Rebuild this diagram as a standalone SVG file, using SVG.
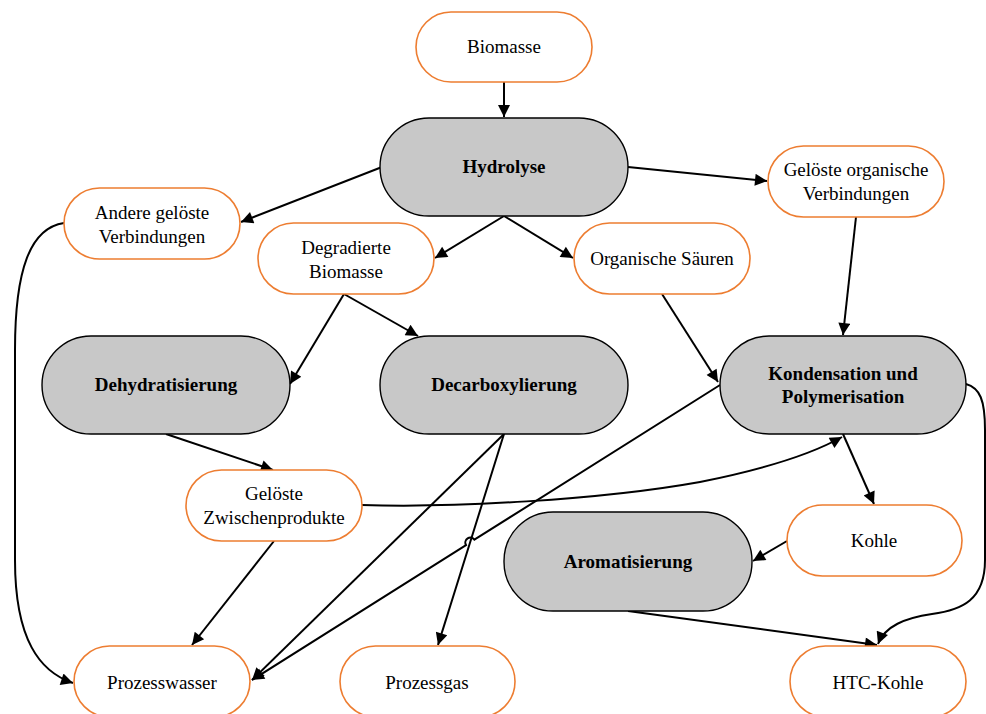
<svg xmlns="http://www.w3.org/2000/svg" width="986" height="714" viewBox="0 0 986 714">
<style>
.o{fill:#fff;stroke:#ED7D31;stroke-width:1.6}
.g{fill:#C8C8C8;stroke:#000;stroke-width:1.4}
text{font-family:"Liberation Serif","Times New Roman","DejaVu Serif",serif;font-size:19px;fill:#000;text-anchor:middle}
.b{font-weight:bold;font-size:19px}
.e{fill:none;stroke:#000;stroke-width:2;marker-end:url(#ah)}
</style>
<defs>
<marker id="ah" viewBox="0 0 10 10" refX="10" refY="5" markerWidth="15" markerHeight="12" orient="auto" markerUnits="userSpaceOnUse"><path d="M0,0 L10,5 L0,10 z" fill="#000"/></marker>
</defs>
<rect width="986" height="714" fill="#fff"/>
<g id="connectors">
<path class="e" d="M504,82 L504,117"/>
<path class="e" d="M382,167 L241,222"/>
<path class="e" d="M628,167 L767,181"/>
<path class="e" d="M504,216 L435,258"/>
<path class="e" d="M504,216 L573,258"/>
<path class="e" d="M344,294 L290,384"/>
<path class="e" d="M344,294 L418,336"/>
<path class="e" d="M662,294 L718,382"/>
<path class="e" d="M856,217 L843,335"/>
<path class="e" d="M166,434 L273,470"/>
<path class="e" d="M362,505 C450,508 600,500 700,482 C760,470 810,455 842,437"/>
<path class="e" d="M720,385 L474.4,539.7 A5,5 0 0 0 466,545.1 L252,680"/>
<path class="e" d="M504,434 L252,680"/>
<path class="e" d="M504,434 L438,645"/>
<path class="e" d="M274,541 L192,645"/>
<path class="e" d="M64,223 C30,228 15,270 15,350 L15,560 C15,640 40,672 73,683"/>
<path class="e" d="M843,434 L874,504"/>
<path class="e" d="M787,541 L753,561"/>
<path class="e" d="M628,611 L877,645"/>
<path class="e" d="M966,384 C980,388 985,400 985,430 L985,560 C985,600 962,610 932,614 C905,618 885,626 878,644"/>
</g>
<g id="biomasse"><rect class="o" x="416" y="12" width="176" height="70" rx="35"/><text x="504" y="53">Biomasse</text></g>
<g id="hydrolyse"><rect class="g" x="380" y="118" width="248" height="98" rx="49"/><text class="b" x="504" y="173">Hydrolyse</text></g>
<g id="andere"><rect class="o" x="64" y="188" width="176" height="71" rx="35.5"/><text x="152" y="219">Andere gelöste</text><text x="152" y="243">Verbindungen</text></g>
<g id="degradierte"><rect class="o" x="258" y="223" width="176" height="71" rx="35.5"/><text x="346" y="254">Degradierte</text><text x="346" y="278">Biomasse</text></g>
<g id="saeuren"><rect class="o" x="574" y="223" width="176" height="71" rx="35.5"/><text x="662" y="265">Organische Säuren</text></g>
<g id="geloeste_org"><rect class="o" x="768" y="146" width="176" height="71" rx="35.5"/><text x="856" y="176">Gelöste organische</text><text x="856" y="200">Verbindungen</text></g>
<g id="dehydratisierung"><rect class="g" x="42" y="336" width="248" height="98" rx="49"/><text class="b" x="166" y="391">Dehydratisierung</text></g>
<g id="decarboxylierung"><rect class="g" x="380" y="336" width="248" height="98" rx="49"/><text class="b" x="504" y="391">Decarboxylierung</text></g>
<g id="kondensation"><rect class="g" x="720" y="336" width="246" height="98" rx="49"/><text class="b" x="843" y="380">Kondensation und</text><text class="b" x="843" y="403">Polymerisation</text></g>
<g id="zwischen"><rect class="o" x="186" y="470" width="176" height="71" rx="35.5"/><text x="274" y="500">Gelöste</text><text x="274" y="524">Zwischenprodukte</text></g>
<g id="kohle"><rect class="o" x="787" y="505" width="175" height="71" rx="35.5"/><text x="874" y="547">Kohle</text></g>
<g id="aromatisierung"><rect class="g" x="504" y="512" width="248" height="99" rx="49"/><text class="b" x="628" y="568">Aromatisierung</text></g>
<g id="prozesswasser"><rect class="o" x="74" y="646" width="176" height="71" rx="35.5"/><text x="162" y="689">Prozesswasser</text></g>
<g id="prozessgas"><rect class="o" x="340" y="646" width="175" height="71" rx="35.5"/><text x="427" y="689">Prozessgas</text></g>
<g id="htc"><rect class="o" x="790" y="646" width="176" height="71" rx="35.5"/><text x="878" y="689">HTC-Kohle</text></g>
</svg>
